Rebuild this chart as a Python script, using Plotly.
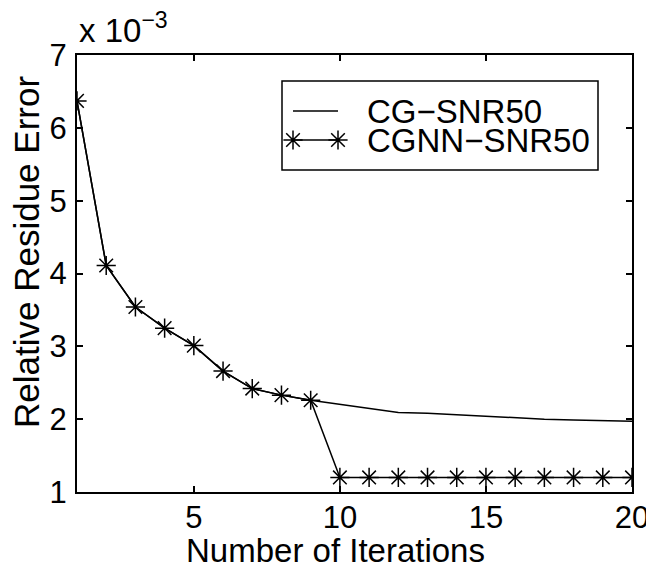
import plotly.graph_objects as go

iterations = list(range(1, 21))
cg_snr50 = [6.37, 4.11, 3.54, 3.25, 3.01, 2.66, 2.42, 2.33, 2.26, 2.20,
            2.14, 2.09, 2.08, 2.06, 2.04, 2.01, 2.00, 1.99, 1.98, 1.97]
cgnn_snr50 = [6.37, 4.11, 3.54, 3.25, 3.01, 2.66, 2.42, 2.33, 2.26, 1.20,
              1.20, 1.20, 1.20, 1.20, 1.20, 1.20, 1.20, 1.20, 1.20, 1.20]
x_ticks = [5, 10, 15, 20]
y_ticks = [1, 2, 3, 4, 5, 6, 7]
series_names = ["CG\u2212SNR50", "CGNN\u2212SNR50"]

FONT = "Liberation Sans, Arial, Helvetica, sans-serif"
TICK_FS = 31
TITLE_FS = 33

# plot area in page pixels (page body has an 8px margin)
OFF = 8
PL, PR, PT, PB = 77, 632, 55, 492
W, H = 654 - OFF, 570 - OFF

fig = go.Figure()
fig.add_trace(go.Scatter(
    x=iterations, y=cg_snr50, mode="lines", name=series_names[0],
    line=dict(color="black", width=1.5), showlegend=False))
marker_style = dict(symbol="asterisk-open", size=16, color="black",
                    line=dict(color="black", width=1.5))
fig.add_trace(go.Scatter(
    x=iterations, y=cgnn_snr50, mode="lines+markers", name=series_names[1],
    line=dict(color="black", width=1.5), marker=marker_style, showlegend=False))

# Legend samples drawn on an overlay axis measured in page pixels
fig.add_trace(go.Scatter(
    x=[293, 338], y=[111, 111], mode="lines", xaxis="x2", yaxis="y2",
    line=dict(color="black", width=1.5), showlegend=False, hoverinfo="skip"))
fig.add_trace(go.Scatter(
    x=[293, 338], y=[140, 140], mode="lines+markers", xaxis="x2", yaxis="y2",
    line=dict(color="black", width=1.5), marker=marker_style,
    showlegend=False, hoverinfo="skip"))

axis_common = dict(
    showline=True, linecolor="black", linewidth=2, mirror="ticks",
    ticks="inside", ticklen=6, tickwidth=1.5, tickcolor="black",
    showgrid=False, zeroline=False, automargin=False,
    tickfont=dict(family=FONT, size=TICK_FS, color="black"),
)

fig.update_layout(
    xaxis=dict(range=[1, 20], tickvals=x_ticks, ticktext=[str(v) for v in x_ticks],
               ticklabelstandoff=-3, **axis_common),
    yaxis=dict(range=[1, 7], tickvals=y_ticks, ticktext=[str(v) for v in y_ticks],
               ticklabelstandoff=2, **axis_common),
    xaxis2=dict(range=[PL, PR], overlaying="x", visible=False, fixedrange=True),
    yaxis2=dict(range=[PB, PT], overlaying="y", visible=False, fixedrange=True),
)

# legend box and labels
fig.add_shape(type="rect", xref="x2", yref="y2", x0=282, x1=598, y0=81, y1=170,
              line=dict(color="black", width=1.5), fillcolor="white", layer="below")
for name, yy in zip(series_names, [111, 140]):
    fig.add_annotation(xref="x2", yref="y2", x=365, y=yy, xanchor="left", yanchor="middle",
                       text=name, showarrow=False, height=28, valign="middle",
                       font=dict(family=FONT, size=TITLE_FS, color="black"))

# axis titles
fig.add_annotation(xref="paper", yref="paper", x=(335 - PL) / (PR - PL), y=(PB - 550) / (PB - PT),
                   xanchor="center", yanchor="middle", text="Number of Iterations",
                   showarrow=False, height=30, valign="middle",
                   font=dict(family=FONT, size=TITLE_FS, color="black"))
fig.add_annotation(xref="paper", yref="paper", x=(26 - PL) / (PR - PL), y=(PB - 252) / (PB - PT),
                   xanchor="center", yanchor="middle", text="Relative Residue Error",
                   textangle=-90, showarrow=False,
                   font=dict(family=FONT, size=35, color="black"))

# exponent label
fig.add_annotation(xref="paper", yref="paper", x=0, y=(PB - 28) / (PB - PT),
                   xanchor="left", yanchor="middle",
                   text="x 10<sup>\u22123</sup>", showarrow=False,
                   font=dict(family=FONT, size=TITLE_FS, color="black"))

fig.update_layout(
    width=W, height=H,
    margin=dict(l=PL - OFF, r=654 - PR, t=PT - OFF, b=570 - PB, autoexpand=False),
    paper_bgcolor="white", plot_bgcolor="white",
    font=dict(family=FONT, size=TITLE_FS, color="black"),
    showlegend=False,
)

fig.write_html("out.html")
